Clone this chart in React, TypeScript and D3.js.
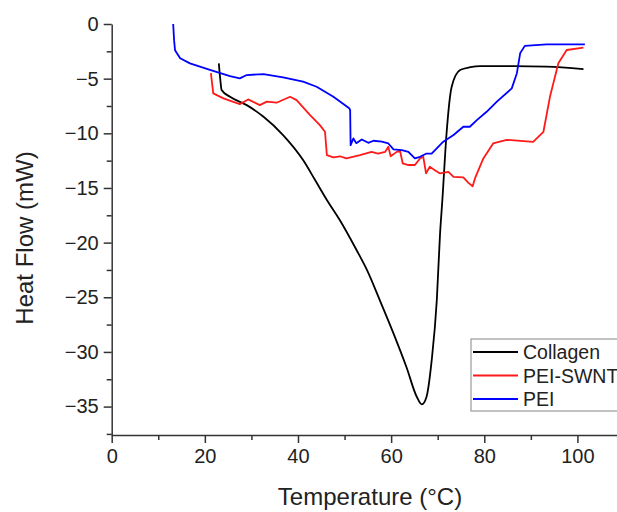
import React, { useEffect, useRef } from 'react';
import * as d3 from 'd3';

// Temperature (°C) and heat flow (mW)
const collagenT = [23.0, 23.3, 23.6, 25.4, 29, 32.6, 36.8, 41.1, 43.7, 46.2, 49, 52.6, 54.8, 57.6, 60.5, 63.3, 65.5, 66.6, 67.6, 68.7, 69.8, 70.5, 71.0, 71.9, 73, 74.8, 77, 79.1, 86.2, 93.4, 101.3];
const collagenHF = [-3.6, -5.0, -6.04, -6.66, -7.42, -8.49, -10.16, -12.45, -14.3, -16.1, -17.95, -20.7, -22.5, -25.3, -28.3, -31.4, -34.1, -34.8, -34.1, -30.8, -25.3, -19.2, -16.1, -10.0, -5.74, -4.21, -3.95, -3.85, -3.85, -3.9, -4.12];

const swntT = [21.3, 21.8, 24, 27.5, 29.3, 31.8, 33.3, 35.4, 38.3, 39.7, 42.6, 44.7, 45.8, 46.2, 47.6, 49, 50.4, 53.3, 55.8, 57.2, 58.7, 59.4, 59.9, 61.2, 61.9, 62.5, 63.7, 65.1, 66.2, 66.9, 67.5, 68.3, 69.4, 70.5, 72.3, 73.4, 75.5, 76.6, 77.5, 78, 79.8, 81.9, 84.8, 90.5, 92.7, 94.1, 95.9, 97.7, 101.3];
const swntHF = [-4.5, -6.35, -6.8, -7.33, -6.9, -7.42, -7.1, -7.2, -6.66, -6.96, -8.33, -9.25, -9.86, -12.0, -12.2, -12.1, -12.3, -12.0, -11.7, -11.85, -11.7, -11.24, -12.1, -11.7, -11.6, -12.76, -12.9, -12.9, -12.3, -12.15, -13.67, -13.06, -13.37, -13.67, -13.52, -13.98, -14.04, -14.53, -14.84, -14.13, -12.3, -10.93, -10.6, -10.78, -9.86, -6.66, -3.6, -2.38, -2.17];

const peiT = [13.2, 13.4, 13.6, 14.7, 16.8, 21.1, 25.4, 27.5, 29, 32.6, 36.8, 41.1, 44, 47.6, 51.0, 51.2, 51.3, 51.9, 52.5, 53.7, 55.1, 56.2, 58, 59.4, 60.5, 62.3, 63.7, 65.1, 66.2, 67.6, 68.7, 71.2, 73.4, 75.5, 76.9, 78.4, 80.5, 82.7, 85.9, 87, 87.7, 88.7, 93.4, 101.6];
const peiHF = [0, -1.5, -2.4, -3.14, -3.6, -4.2, -4.76, -4.97, -4.67, -4.58, -4.88, -5.28, -5.74, -6.66, -7.7, -7.88, -11.08, -10.47, -10.9, -10.56, -10.87, -10.68, -10.77, -10.93, -11.47, -11.54, -11.7, -12.3, -12.15, -11.85, -11.85, -10.77, -10.16, -9.4, -9.4, -8.8, -8.03, -7.1, -5.89, -4.5, -2.68, -2.0, -1.86, -1.86];

const seriesNames = ['Collagen', 'PEI-SWNT', 'PEI'];
const seriesColors = ['#000000', '#ff1a1a', '#0000ff'];
const xTicks = [0, 20, 40, 60, 80, 100];
const yTicks = [0, -5, -10, -15, -20, -25, -30, -35];

const W = 617;
const H = 512;
const FONT = '"Liberation Sans", Arial, sans-serif';

const App = () => {
  const svgRef = useRef<SVGSVGElement>(null);

  useEffect(() => {
    if (!svgRef.current) return;
    const svg = d3.select(svgRef.current);
    svg.selectAll('*').remove();

    const x = d3.scaleLinear().domain([0, 110]).range([111.7, 624]);
    const y = d3.scaleLinear().domain([-37.6, 0]).range([435, 24]);

    const series = [
      { T: collagenT, HF: collagenHF, curve: d3.curveMonotoneX },
      { T: swntT, HF: swntHF, curve: d3.curveLinear },
      { T: peiT, HF: peiHF, curve: d3.curveLinear },
    ];

    // traces
    series.forEach((s, i) => {
      const pts: [number, number][] = s.T.map((t, j) => [t, s.HF[j]]);
      const line = d3.line<[number, number]>()
        .x(d => x(d[0]))
        .y(d => y(d[1]))
        .curve(s.curve);
      svg.append('path')
        .attr('d', line(pts))
        .attr('fill', 'none')
        .attr('stroke', seriesColors[i])
        .attr('stroke-width', 1.8)
        .attr('stroke-linejoin', 'round');
    });

    // minor ticks
    const minorX = d3.range(10, 111, 20);
    const minorY = d3.range(-2.5, -37.6, -5);
    svg.append('g').attr('transform', 'translate(0,435)')
      .call(d3.axisBottom(x).tickValues(minorX).tickSize(5).tickFormat(() => ''))
      .call(g => g.select('.domain').remove());
    svg.append('g').attr('transform', 'translate(111.7,0)')
      .call(d3.axisLeft(y).tickValues(minorY).tickSize(5).tickFormat(() => ''))
      .call(g => g.select('.domain').remove());

    // major axes
    const xAxis = svg.append('g').attr('transform', 'translate(0,435)')
      .call(d3.axisBottom(x).tickValues(xTicks).tickSize(8).tickSizeOuter(0).tickPadding(6));
    const yAxis = svg.append('g').attr('transform', 'translate(111.7,0)')
      .call(d3.axisLeft(y).tickValues(yTicks).tickSize(8).tickSizeOuter(0).tickPadding(5));

    [xAxis, yAxis].forEach(g => {
      g.selectAll('text').attr('font-family', FONT).attr('font-size', 20).attr('fill', '#222');
    });
    svg.selectAll('.domain, .tick line').attr('stroke', '#333').attr('stroke-width', 1.5);

    // axis titles
    svg.append('text')
      .attr('x', 370).attr('y', 505)
      .attr('text-anchor', 'middle')
      .attr('font-family', FONT).attr('font-size', 24).attr('fill', '#222')
      .text('Temperature (°C)');
    svg.append('text')
      .attr('transform', 'translate(33,238) rotate(-90)')
      .attr('text-anchor', 'middle')
      .attr('font-family', FONT).attr('font-size', 24).attr('fill', '#222')
      .text('Heat Flow (mW)');

    // legend (runs past the right edge like the original crop)
    const legend = svg.append('g').attr('transform', 'translate(471,339)');
    legend.append('rect')
      .attr('width', 170).attr('height', 72)
      .attr('fill', '#fff').attr('stroke', '#999').attr('stroke-width', 1.2);
    seriesNames.forEach((name, i) => {
      const cy = 13 + i * 23.5;
      legend.append('line')
        .attr('x1', 2).attr('x2', 47).attr('y1', cy).attr('y2', cy)
        .attr('stroke', seriesColors[i]).attr('stroke-width', 1.8);
      legend.append('text')
        .attr('x', 52).attr('y', cy + 7)
        .attr('font-family', FONT).attr('font-size', 19.5).attr('fill', '#222')
        .text(name);
    });
  }, []);

  return (
    <svg
      ref={svgRef}
      width={W}
      height={H}
      style={{ position: 'absolute', left: 0, top: 0, background: '#fff' }}
    />
  );
};

export default App;
